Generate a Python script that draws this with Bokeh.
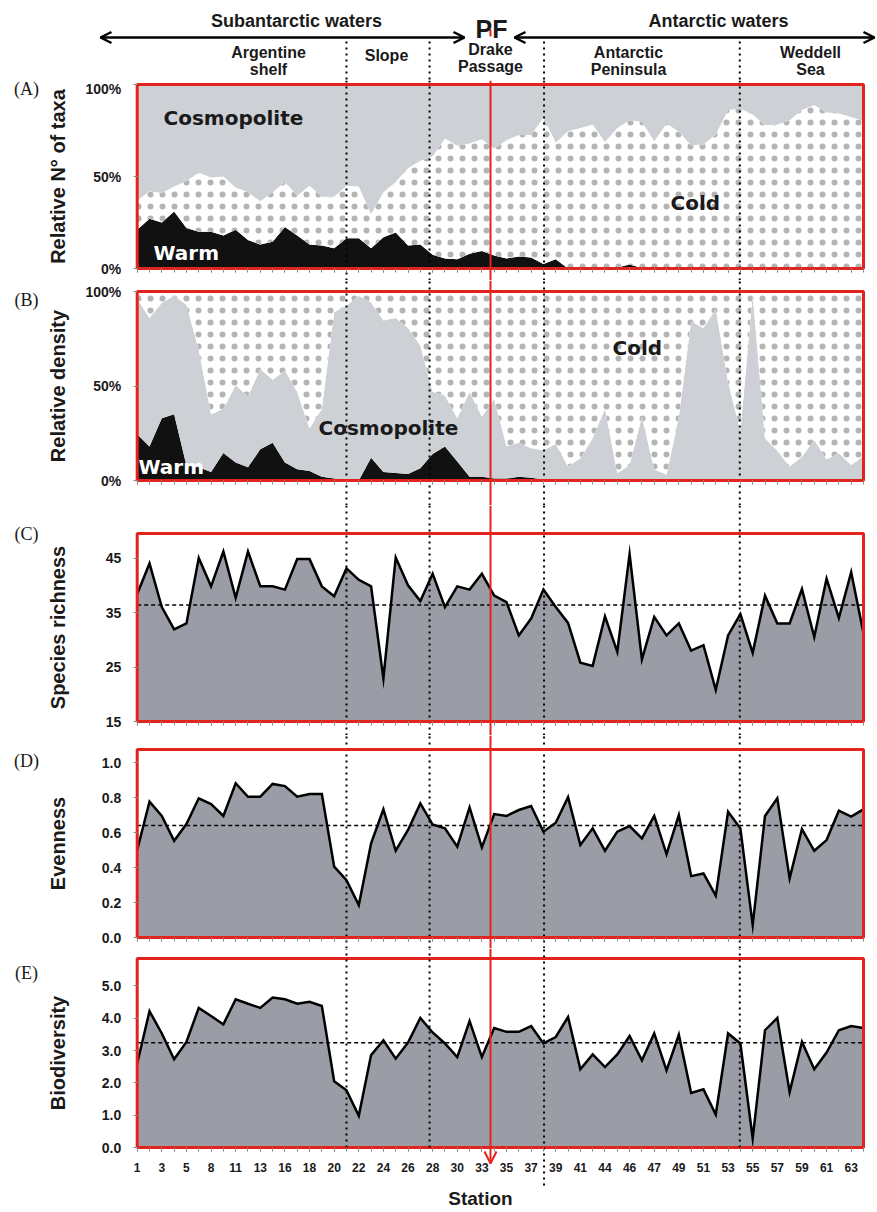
import numpy as np
from bokeh.plotting import figure
from bokeh.layouts import column
from bokeh.models import Range1d, LinearAxis, FixedTicker, Arrow, OpenHead
from bokeh.core.properties import value
from bokeh.embed import file_html
from bokeh.resources import INLINE

# ---------------- data ----------------
station_labels = ["1", "3", "5", "8", "11", "13", "16", "18", "20", "22", "24", "26", "28", "30",
                  "33", "35", "37", "39", "41", "44", "46", "47", "49", "51", "53", "55", "57",
                  "59", "61", "63"]

# (A) relative number of taxa (%)
warm_taxa = [21, 27, 25, 31, 22, 20, 20, 18, 21, 15.5, 13, 14.5, 22.5, 18, 13, 12.5, 11, 16.5,
             16.5, 11, 17, 19.5, 12.5, 13, 7.5, 5.5, 5, 8, 9.5, 7, 5.5, 6.5, 6, 2.5, 5, 0, 0, 0,
             0, 0.5, 2.2, 0.3, 0, 0, 0, 0, 0, 0, 0, 0, 0, 0, 0, 0, 0, 0, 0, 0, 0, 0]
cosmo_taxa = [63, 58, 59, 55.5, 52.5, 48, 50.5, 50, 56, 58.5, 63.5, 58.5, 53, 60.5, 55, 61, 61,
              55, 55.5, 70.5, 58.5, 53, 45.5, 41.5, 39, 29.3, 33.3, 32, 29.7, 34.8, 30.3, 27.5,
              27.5, 18, 31.5, 25.4, 23.6, 21.7, 31.2, 23.6, 19.4, 20.3, 30.8, 21.2, 25.7, 33,
              32.6, 27.2, 13.9, 13, 16.3, 22.1, 21.7, 19.4, 13.9, 11.2, 15.2, 15.8, 17.6, 19.9]

# (B) relative density (%)
warm_dens = [24.5, 18, 33, 35, 8, 7, 4.5, 14.5, 9.5, 7, 16.5, 20, 9.5, 6, 5, 2, 1, 0, 0, 12,
             4.5, 4, 3.5, 6.5, 14, 18, 10, 2, 2, 1, 1, 2, 1.5, 0.5, 0, 0, 0, 0, 0, 0, 0, 0, 0,
             0, 0, 0, 0, 0, 0, 0, 0, 0, 0, 0, 0, 0, 0, 0, 0, 0]
cosmo_dens = [71.5, 68, 61, 62.7, 85, 62, 30.5, 23.5, 40.9, 37.6, 42.5, 33.3, 48.7, 40.8, 22.5,
              36, 88, 92.5, 97.7, 82.2, 80.1, 82, 77.2, 64.9, 33, 27, 23, 44.8, 31.7, 42.3,
              17.2, 18, 15.5, 15.5, 19.3, 7.4, 11.8, 22.3, 38, 3.9, 8.2, 33.7, 6, 3, 33.7, 84.2,
              80.7, 90.7, 52, 26, 98.2, 22.3, 15.8, 7.4, 12.6, 21.4, 11.2, 14.4, 8.2, 13]

# (C) species richness
richness = [38.4, 44, 36, 31.9, 33, 45, 39.8, 46.2, 37.7, 46.2, 39.8, 39.8, 39.2, 44.8, 44.8,
            39.8, 38, 43.1, 41, 39.8, 22.9, 45.1, 40, 37.1, 42.1, 36, 39.8, 39.2, 42.1, 38.1,
            36.9, 30.8, 33.9, 39.2, 36, 33.1, 25.8, 25.2, 34.3, 27.8, 45.7, 26.4, 34.2, 30.8,
            33, 28, 29, 20.8, 30.8, 34.7, 27.6, 38.1, 33, 33, 39.3, 30.5, 41.2, 34, 42.4, 31.2]
richness_mean = 36.4

# (D) evenness
evenness = [0.50, 0.777, 0.695, 0.553, 0.649, 0.796, 0.763, 0.695, 0.882, 0.805, 0.805, 0.878,
            0.866, 0.805, 0.821, 0.821, 0.405, 0.328, 0.185, 0.538, 0.733, 0.496, 0.615, 0.767,
            0.646, 0.624, 0.519, 0.744, 0.515, 0.706, 0.695, 0.729, 0.752, 0.605, 0.656, 0.802,
            0.529, 0.624, 0.496, 0.605, 0.637, 0.567, 0.695, 0.477, 0.700, 0.351, 0.366, 0.239,
            0.719, 0.624, 0.071, 0.695, 0.796, 0.338, 0.620, 0.496, 0.557, 0.725, 0.691, 0.733]
evenness_mean = 0.64

# (E) biodiversity
biodiversity = [2.60, 4.22, 3.53, 2.73, 3.27, 4.32, 4.07, 3.81, 4.59, 4.45, 4.32, 4.64, 4.59,
                4.45, 4.51, 4.38, 2.05, 1.77, 0.98, 2.86, 3.32, 2.75, 3.25, 4.01, 3.56, 3.22,
                2.80, 3.91, 2.80, 3.70, 3.58, 3.58, 3.76, 3.22, 3.42, 4.04, 2.42, 2.88, 2.49,
                2.88, 3.45, 2.70, 3.53, 2.39, 3.49, 1.69, 1.80, 1.02, 3.53, 3.22, 0.28, 3.63,
                4.01, 1.72, 3.27, 2.42, 2.94, 3.63, 3.76, 3.70]
biodiversity_mean = 3.24

# region boundaries (in station index units) and polar front position
region_bounds = [17.0, 23.75, 33.05, 48.95]
polar_front = 28.7

# ---------------- style / layout ----------------
RED = "#E3231D"
LIGHT = "#CDD0D5"
MID = "#9A9DA5"
BLACK = "#111111"
TXT = "#1a1a1a"
SANS_NAME = "Liberation Sans"
SANS = value(SANS_NAME)
BOLDWIDE = value("DejaVu Sans")
SERIF = value("Liberation Serif")

N = len(richness)
idx = np.arange(N)

FIG_W = 876
X0 = 136.7      # page pixel of station index 0
DX = 12.31      # pixels per station
XR = (-X0 / DX, (FIG_W - X0) / DX)


def px(page_x):
    return (page_x - X0) / DX


def make_fig(top, bot, yr):
    p = figure(width=FIG_W, height=bot - top, x_range=Range1d(*XR), y_range=Range1d(*yr),
               output_backend="svg", toolbar_location=None, min_border=0, title=None,
               x_axis_location=None, y_axis_location=None, outline_line_color=None)
    p.grid.grid_line_color = None
    p.background_fill_color = "white"
    p.border_fill_color = "white"
    return p


def panel(top, bot, btop, bbot, vmin, vmax):
    s = (bbot - btop) / (vmax - vmin)
    yr = (vmin - (bot - bbot) / s, vmax + (btop - top) / s)
    p = make_fig(top, bot, yr)

    def py(page_y):
        return vmin + (bbot - page_y) / s
    return p, py, yr


def add_axes(p, vmin, yticks, yfmt, xlabels=False):
    xa = LinearAxis(fixed_location=vmin,
                    ticker=FixedTicker(ticks=[int(i) for i in idx[::2]],
                                       minor_ticks=[int(i) for i in idx]),
                    axis_line_color=None, major_tick_in=0, major_tick_out=4,
                    minor_tick_in=0, minor_tick_out=4,
                    major_tick_line_color="#888888", minor_tick_line_color="#888888")
    if xlabels:
        xa.major_label_overrides = {int(i): lab for i, lab in zip(idx[::2], station_labels)}
        xa.major_label_text_font = SANS_NAME
        xa.major_label_text_font_style = "bold"
        xa.major_label_text_font_size = "12px"
        xa.major_label_text_color = TXT
        xa.major_label_standoff = 11
    else:
        xa.major_label_text_color = None
    p.add_layout(xa, "below")
    ya = LinearAxis(fixed_location=0, ticker=FixedTicker(ticks=yticks, minor_ticks=[]),
                    axis_line_color=None, major_tick_in=0, major_tick_out=4,
                    major_tick_line_color="#888888", minor_tick_out=0, minor_tick_in=0,
                    major_label_overrides={t: f for t, f in zip(yticks, yfmt)},
                    major_label_text_font=SANS_NAME, major_label_text_font_style="bold",
                    major_label_text_font_size="14px", major_label_text_color=TXT,
                    major_label_standoff=12)
    p.add_layout(ya, "left")


def vlines(p, y0, y1, pf=True):
    p.segment(x0=region_bounds, y0=[y0] * len(region_bounds), x1=region_bounds,
              y1=[y1] * len(region_bounds), line_color="black", line_dash="2 4", line_width=2)
    if pf:
        p.segment(x0=[polar_front], y0=[y0], x1=[polar_front], y1=[y1], line_color=RED,
                  line_width=2)


def decorations(p, py, yr, vmin, vmax, title, letter, letter_y, btop, bbot, spans=True):
    if spans:
        vlines(p, yr[0], yr[1])
    p.quad(left=[idx[0]], right=[idx[-1]], bottom=[vmin], top=[vmax], fill_color=None,
           line_color=RED, line_width=3)
    p.text(x=[px(57)], y=[py((btop + bbot) / 2)], text=[title], angle=np.pi / 2,
           text_align="center", text_baseline="middle", text_font=SANS,
           text_font_style="bold", text_font_size="20px", text_color=TXT)
    p.text(x=[px(26)], y=[py(letter_y)], text=[letter], text_align="center",
           text_baseline="middle", text_font=SERIF, text_font_size="18px", text_color=TXT)


def label(p, x, y, t, color=TXT, size="20px", font=BOLDWIDE, align="left"):
    p.text(x=[x], y=[y], text=[t], text_align=align, text_baseline="middle", text_font=font,
           text_font_style="bold", text_font_size=size, text_color=color)


HATCH = dict(hatch_pattern="dot", hatch_color="#b4b4b4", hatch_scale=12, hatch_weight=0.5)

# ---------------- header ----------------
H = make_fig(0, 80, (80, 0))
vlines(H, 41, 80, pf=False)
H.segment(x0=[polar_front], y0=[29], x1=[polar_front], y1=[36], line_color=RED, line_width=2)
label(H, px(296), 20, "Subantarctic waters", size="18px", font=SANS, align="center")
label(H, px(718), 20, "Antarctic waters", size="18px", font=SANS, align="center")
label(H, px(491), 28, "PF", size="25px", font=SANS, align="center")
H.add_layout(Arrow(x_start=px(100), y_start=37, x_end=px(464), y_end=37, line_width=2.5,
                   start=OpenHead(size=11, line_width=2.5), end=OpenHead(size=11, line_width=2.5)))
H.add_layout(Arrow(x_start=px(514), y_start=37, x_end=px(874), y_end=37, line_width=2.5,
                   start=OpenHead(size=11, line_width=2.5), end=OpenHead(size=11, line_width=2.5)))
for cx, lines, ys in [(268, ["Argentine", "shelf"], [52, 69]),
                      (386, ["Slope"], [55]),
                      (490, ["Drake", "Passage"], [49, 66]),
                      (628, ["Antarctic", "Peninsula"], [52, 69]),
                      (810, ["Weddell", "Sea"], [52, 69])]:
    for t, y in zip(lines, ys):
        label(H, px(cx), y, t, size="16px", font=SANS, align="center")

# ---------------- (A) ----------------
A, pyA, yrA = panel(80, 280, 84, 268, 0, 100)
w = np.array(warm_taxa, dtype=float)
cz = np.array(cosmo_taxa, dtype=float)
cold = 100 - w - cz
A.varea(x=idx, y1=np.zeros(N), y2=w, fill_color=BLACK)
A.varea(x=idx, y1=w, y2=w + cold, fill_color="white", **HATCH)
A.varea(x=idx, y1=w + cold, y2=w + cold + cz, fill_color=LIGHT)
add_axes(A, 0, [0, 50, 100], ["0%", "50%", "100%"])
label(A, px(163), pyA(117), "Cosmopolite")
label(A, px(153), pyA(252), "Warm", color="white")
label(A, px(670), pyA(202), "Cold")
decorations(A, pyA, yrA, 0, 100, "Relative N° of taxa", "(A)", 88, 84, 268)

# ---------------- (B) ----------------
B, pyB, yrB = panel(280, 505, 291, 480, 0, 100)
wb = np.array(warm_dens, dtype=float)
cb = np.array(cosmo_dens, dtype=float)
coldb = 100 - wb - cb
B.varea(x=idx, y1=np.zeros(N), y2=wb, fill_color=BLACK)
B.varea(x=idx, y1=wb, y2=wb + cb, fill_color=LIGHT)
B.varea(x=idx, y1=wb + cb, y2=wb + cb + coldb, fill_color="white", **HATCH)
add_axes(B, 0, [0, 50, 100], ["0%", "50%", "100%"])
label(B, px(612), pyB(347), "Cold")
label(B, px(318), pyB(427), "Cosmopolite")
label(B, px(138), pyB(466), "Warm", color="white")
decorations(B, pyB, yrB, 0, 100, "Relative density", "(B)", 299, 291, 480)


# ---------------- (C)(D)(E) ----------------
def index_panel(spec, vals, mean, yticks, yfmt, title, letter, letter_y, xlabels=False,
                spans=True):
    top, bot, btop, bbot, vmin, vmax = spec
    p, py, yr = panel(*spec)
    v = np.array(vals, dtype=float)
    p.varea(x=idx, y1=np.full(N, vmin), y2=v, fill_color=MID)
    p.line(x=list(idx) + [idx[-1]], y=list(v) + [vmin], line_color="black", line_width=2.5,
           line_join="miter")
    p.line(x=[idx[0], idx[-1]], y=[mean, mean], line_color="black", line_dash="4 3",
           line_width=1.5)
    add_axes(p, vmin, yticks, yfmt, xlabels=xlabels)
    decorations(p, py, yr, vmin, vmax, title, letter, letter_y, btop, bbot, spans=spans)
    return p, py, yr


C, pyC, _ = index_panel((505, 735, 533, 721, 15, 49.5), richness, richness_mean,
                        [15, 25, 35, 45], ["15", "25", "35", "45"], "Species richness", "(C)", 533)
D, pyD, _ = index_panel((735, 948, 749, 937, 0, 1.075), evenness, evenness_mean,
                        [0, 0.2, 0.4, 0.6, 0.8, 1.0], ["0.0", "0.2", "0.4", "0.6", "0.8", "1.0"],
                        "Evenness", "(D)", 760)
E, pyE, yrE = index_panel((948, 1208, 958, 1147, 0, 5.85), biodiversity, biodiversity_mean,
                          [0, 1, 2, 3, 4, 5], ["0.0", "1.0", "2.0", "3.0", "4.0", "5.0"],
                          "Biodiversity", "(E)", 972, xlabels=True, spans=False)
for k, b in enumerate(region_bounds):
    yb = pyE(1185) if k == 2 else 0
    E.segment(x0=[b], y0=[yb], x1=[b], y1=[yrE[1]], line_color="black", line_dash="2 4",
              line_width=2)
E.add_layout(Arrow(x_start=polar_front, y_start=yrE[1], x_end=polar_front, y_end=pyE(1163),
                   line_color=RED, line_width=2,
                   end=OpenHead(size=12, line_color=RED, line_width=2)))
label(E, px(480), pyE(1198), "Station", size="19px", font=SANS, align="center")

layout = column(H, A, B, C, D, E, spacing=0)
open("out.html", "w").write(file_html(layout, INLINE))
